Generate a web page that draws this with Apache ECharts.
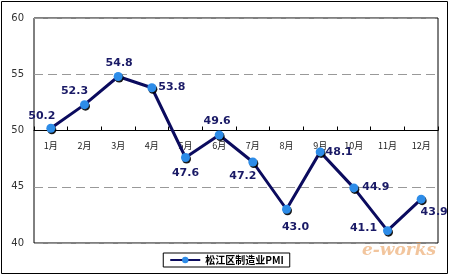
<!DOCTYPE html>
<html><head><meta charset="utf-8">
<script src="https://cdn.jsdelivr.net/npm/echarts@6/dist/echarts.min.js"></script>
<style>html,body{margin:0;padding:0;background:#fff}#c{width:453px;height:276px}</style>
</head><body><div id="c"></div>
<script>
var categories = ['1月','2月','3月','4月','5月','6月','7月','8月','9月','10月','11月','12月'];
var pmiValues = [50.2, 52.3, 54.8, 53.8, 47.6, 49.6, 47.2, 43.0, 48.1, 44.9, 41.1, 43.9];
var seriesName = '松江区制造业PMI';
var yTicks = [40, 45, 50, 55, 60];
var labelOffsets = [[-9,-12],[-10,-13],[1,-13],[20,-1],[0,16],[-2,-14],[-10,14],[9,18],[19,0],[22,-1],[-24,-2],[13,13]];

var chart = echarts.init(document.getElementById('c'));
chart.setOption({
  animation: false,
  graphic: [
    {type:'rect', shape:{x:1.5,y:1.5,width:446,height:272}, style:{fill:'none',stroke:'#000',lineWidth:1}, z:-1},
    {type:'text', left:362, top:242, style:{text:'e-works', fill:'rgba(230,140,60,0.5)', font:'italic bold 17px "DejaVu Serif"'}}
  ],
  grid: {left:34, top:18, right:15, bottom:33, show:true, borderColor:'#000', borderWidth:1, backgroundColor:'#fff'},
  legend: {
    bottom: 9, left: 'center',
    data: [seriesName],
    itemWidth: 30, itemHeight: 8,
    borderColor:'#000', borderWidth:1, padding:[2,6,2,6],
    textStyle: {fontSize: 10, fontWeight:'bold', color:'#000', fontFamily:'"Noto Sans CJK SC"'}
  },
  xAxis: {
    type: 'category', data: categories,
    offset: -112.5,
    axisLine: {show:true, lineStyle:{color:'#000', width:1}},
    axisTick: {show:true, inside:true, length:4, lineStyle:{color:'#000'}},
    axisLabel: {fontSize: 9, color:'#222', margin: 11, fontFamily:'"Noto Sans CJK SC"'},
    splitLine: {show:false}
  },
  yAxis: {
    type: 'value', min: 40, max: 60, interval: 5,
    axisLine: {show:false}, axisTick: {show:false},
    axisLabel: {fontSize: 10, color:'#333', margin: 10, fontFamily:'"DejaVu Sans"'},
    splitLine: {show:true, lineStyle:{color:'#999', type:[9,5], width:1}}
  },
  series: [{
    name: seriesName, type: 'line',
    data: pmiValues.map(function(v,i){ return {value: v, label:{offset: labelOffsets[i]}}; }),
    lineStyle: {color:'#0b0b5e', width:3},
    itemStyle: {color:'#2d8ce8', borderWidth:0, shadowColor:'rgba(0,0,0,0.9)', shadowOffsetX:1, shadowOffsetY:1.5, shadowBlur:0},
    symbol: 'circle', symbolSize: 9,
    label: {
      show: true, position: 'inside',
      formatter: function(p){ return p.value.toFixed(1); },
      color:'#1a1a66', fontSize: 11, fontWeight:'bold', fontFamily:'"DejaVu Sans"'
    }
  }]
});
</script></body></html>
